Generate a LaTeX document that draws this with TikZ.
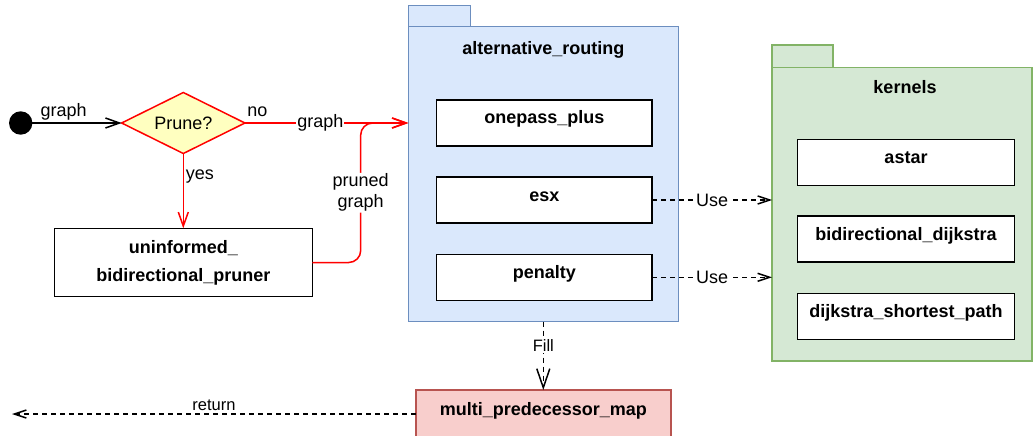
\documentclass[tikz,border=0pt]{standalone}
\usepackage{fontspec}
\setmainfont{Liberation Sans}
\usetikzlibrary{arrows.meta,shapes.geometric,calc}

\definecolor{pkgblue}{HTML}{DAE8FC}
\definecolor{pkgblueline}{HTML}{6C8EBF}
\definecolor{pkggreen}{HTML}{D5E8D4}
\definecolor{pkggreenline}{HTML}{82B366}
\definecolor{mapred}{HTML}{F8CECC}
\definecolor{mapredline}{HTML}{B85450}
\definecolor{decfill}{HTML}{FFFFC0}
\definecolor{flowred}{HTML}{FF0000}

\begin{document}
\begin{tikzpicture}[x=1pt,y=-1pt,
  every node/.style={inner sep=0pt, outer sep=0pt},
  lbl/.style={font=\fontsize{18}{21}\selectfont},
  smalllbl/.style={font=\fontsize{16.5}{19}\selectfont},
  boxbase/.style={draw=black, line width=1.5pt, fill=white,
    font=\fontsize{18}{22}\selectfont\bfseries},
  unit/.style={boxbase, minimum width=215.5pt, minimum height=46pt,
    text height=12pt, text depth=10pt},
  pkgpart/.style={line width=1.5pt},
  pkgtitle/.style={anchor=base, font=\fontsize{18}{22}\selectfont\bfseries},
  flow/.style={line width=1.5pt, -{Straight Barb[length=14pt,width=10pt]}},
  redflow/.style={flow, draw=flowred},
  dep/.style={line width=1.5pt, dash pattern=on 5pt off 4pt,
    -{Straight Barb[length=12pt,width=8pt]}},
  onedge/.style={lbl, fill=white, inner sep=1pt}
]
\useasboundingbox (0,0) rectangle (1034,436);
\clip (0,0) rectangle (1034,436);

% package alternative_routing
\node[pkgpart, fill=pkgblue, draw=pkgblueline, minimum width=62pt, minimum height=21pt] (alttab) at (439.3,16.2) {};
\node[pkgpart, fill=pkgblue, draw=pkgblueline, minimum width=270pt, minimum height=295pt] (alt) at (543.3,174.2) {};
\node[pkgtitle] (alttitle) at (543.3,55) {alternative\_routing};
\node[unit] (onepass) at (544.3,123) {onepass\_plus};
\node[unit] (esx) at (544.3,200) {esx};
\node[unit] (penalty) at (544.3,277.3) {penalty};

% package kernels
\node[pkgpart, fill=pkggreen, draw=pkggreenline, minimum width=61pt, minimum height=22.7pt] (kerntab) at (802.5,56.3) {};
\node[pkgpart, fill=pkggreen, draw=pkggreenline, minimum width=260pt, minimum height=293.3pt] (kern) at (902,214.35) {};
\node[pkgtitle] (kerntitle) at (905,93.3) {kernels};
\node[unit, minimum width=216.7pt] (astar) at (906,162.3) {astar};
\node[unit, minimum width=216.7pt] (bidij) at (906,239.2) {bidirectional\_dijkstra};
\node[unit, minimum width=216.7pt] (dsp) at (906,316.7) {dijkstra\_shortest\_path};

% control flow
\node[circle, fill=black, minimum size=23.4pt] (start) at (20.7,123) {};
\node[diamond, aspect=2, draw=flowred, fill=decfill, line width=1.5pt,
      minimum width=123.3pt, minimum height=61pt, lbl, text depth=0pt] (prune) at (183.3,123) {Prune?};
\node[boxbase, minimum width=258pt, minimum height=68.4pt, align=center,
      font=\fontsize{18}{28.3}\selectfont\bfseries] (pruner) at (183.3,262.5)
      {uninformed\_\\bidirectional\_pruner};

\node[unit, fill=mapred, draw=mapredline, minimum width=255pt, minimum height=48pt] (mpm) at (543.3,414) {multi\_predecessor\_map};

\coordinate (bend) at (360.7,0);
\coordinate (retend) at (12,414);

\draw[flow] (start.east) -- node[lbl, pos=0.35, above, inner sep=3pt] {graph} (prune.west);
\node[lbl, anchor=base] (nolbl) at ($(prune.east)+(12.5,-7)$) {no};
\draw[redflow] (prune.south) -- node[lbl, pos=0.31, anchor=west, inner sep=2.5pt] {yes} (pruner.north);
\draw[redflow] (prune.east) -- node[onedge, pos=0.462] {graph} (prune.east -| alt.west);
\draw[redflow, rounded corners=12pt] (pruner.east) -- (pruner.east -| bend)
   -- node[onedge, align=center] {pruned\\graph} (bend |- prune.east)
   -- (prune.east -| alt.west);

% dependencies
\draw[dep] (esx.east) -- node[onedge] {Use} (esx.east -| kern.west);
\draw[dep] (penalty.east) -- node[onedge] {Use} (penalty.east -| kern.west);
\draw[dep, -{Straight Barb[length=19pt,width=13pt]}] (alt.south) -- node[smalllbl, fill=white, inner sep=1pt, pos=0.35] {Fill} (mpm.north);
\draw[dep] (mpm.west) -- node[smalllbl, midway, above, inner sep=3pt] {return} (retend);
\end{tikzpicture}
\end{document}
